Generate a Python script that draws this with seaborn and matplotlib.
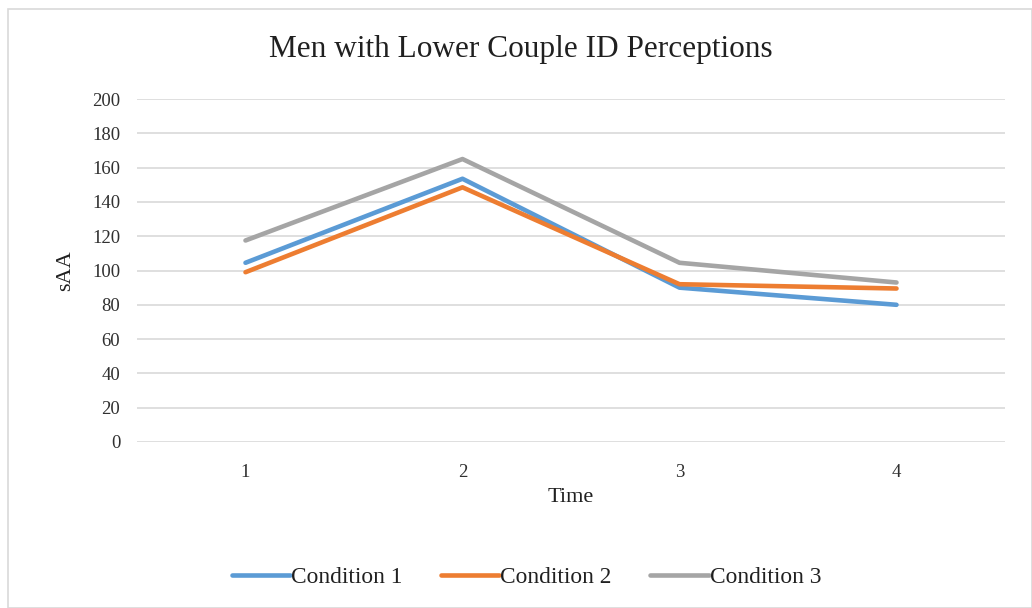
import matplotlib
matplotlib.use("Agg")
import matplotlib.pyplot as plt
from matplotlib.patches import Rectangle
import seaborn as sns
import pandas as pd

# Salivary alpha-amylase (sAA) across four time points, by condition
times = [1, 2, 3, 4]
condition_1 = [104.5, 153.5, 90.0, 80.0]
condition_2 = [99.0, 148.5, 92.0, 89.5]
condition_3 = [117.5, 165.0, 104.5, 93.0]
series_names = ["Condition 1", "Condition 2", "Condition 3"]
colors = ["#5B9BD5", "#ED7D31", "#A5A5A5"]

frames = []
for name, vals in zip(series_names, [condition_1, condition_2, condition_3]):
    frames.append(pd.DataFrame({"Time": times, "sAA": vals, "Condition": name}))
df = pd.concat(frames, ignore_index=True)

sns.set_theme(style="white")
plt.rcParams["font.family"] = ["Liberation Serif", "DejaVu Serif"]

fig = plt.figure(figsize=(10.32, 6.08), dpi=100)
ax = fig.add_axes([137 / 1032, 1 - 442 / 608, (1005 - 137) / 1032, (442 - 99) / 608])

sns.lineplot(data=df, x="Time", y="sAA", hue="Condition", palette=colors,
             linewidth=3.3, ax=ax, legend=True)

ax.set_xlim(0.5, 4.5)
ax.set_ylim(0, 200)
ax.set_yticks(range(0, 201, 20))
ax.set_xticks(times)
ax.set_xticklabels([str(t) for t in times])
ax.yaxis.grid(True, color="#D9D9D9", linewidth=1.2)
ax.xaxis.grid(False)
for s in ax.spines.values():
    s.set_visible(False)
ax.tick_params(axis="both", length=0, labelsize=13.5, colors="#303030")
ax.tick_params(axis="x", pad=16)
ax.tick_params(axis="y", pad=12)

ax.set_xlabel("Time", fontsize=16, color="#202020", labelpad=5)
ax.set_ylabel("sAA", fontsize=16, color="#202020", labelpad=12)
fig.text(521 / 1032, 1 - 50 / 608, "Men with Lower Couple ID Perceptions",
         fontsize=22.5, color="#202020", ha="center", va="center")

handles, labels = ax.get_legend_handles_labels()
ax.legend(handles, labels, loc="center", bbox_to_anchor=(0.5 * (233 + 820) / 1032, 1 - 577 / 608),
          bbox_transform=fig.transFigure, ncol=3, frameon=False, fontsize=16.8,
          handlelength=2.5, handletextpad=0.05, columnspacing=1.65, labelcolor="#202020")

# Chart frame
fig.patches.append(Rectangle((8 / 1032, 0), 1 - 8 / 1032, 1 - 9 / 608,
                             transform=fig.transFigure, fill=False,
                             edgecolor="#D9D9D9", linewidth=1.2))

fig.savefig("out.png", dpi=100)
